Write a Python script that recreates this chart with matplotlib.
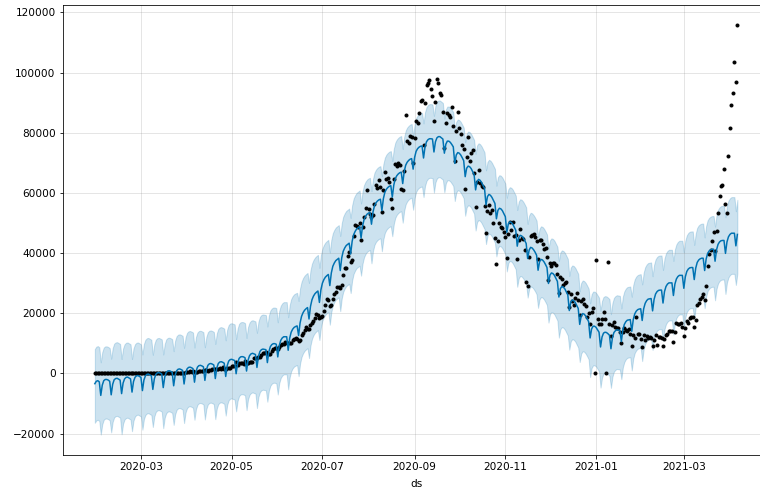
import matplotlib
matplotlib.use('Agg')
import matplotlib.pyplot as plt
import matplotlib.dates as mdates
import numpy as np
import pandas as pd

plt.rcParams['font.size'] = 10.5

# --- data (thousands of cases per day, first day 2020-01-30) ---
start_date = '2020-01-30'

cases = [
    0.0, 0.0,
    0.0, 0.0, 0.0, 0.0, 0.0, 0.0, 0.0, 0.0, 0.0, 0.0,
    0.0, 0.0, 0.0, 0.0, 0.0, 0.0, 0.0, 0.0, 0.0, 0.0,
    0.0, 0.0, 0.0, 0.0, 0.0, 0.0, 0.0, 0.0, 0.0,
    # 2020-03
    0.0, 0.0, 0.02, 0.0, 0.0, 0.0, 0.01, 0.0, 0.01, 0.01, 0.01, 0.01, 0.02, 0.01, 0.01, 0.02,
    0.01, 0.04, 0.05, 0.09, 0.07, 0.1, 0.04, 0.12, 0.07, 0.16, 0.1, 0.18, 0.09, 0.23, 0.6,
    # 2020-04
    0.42, 0.49, 0.69, 0.47, 0.69, 0.35, 0.54, 0.54, 0.68, 0.86, 0.92, 0.93, 1.05, 1.0, 0.86,
    1.08, 1.0, 1.33, 1.55, 1.34, 1.38, 1.41, 1.68, 1.43, 1.98, 1.46, 1.54, 1.86, 1.73, 1.88,
    # 2020-05
    2.4, 2.6, 2.5, 3.9, 2.96, 3.6, 3.39, 3.32, 3.28, 4.21, 3.6, 3.52, 3.72, 3.97, 3.97, 4.99,
    5.24, 4.97, 5.61, 5.61, 6.09, 6.65, 6.77, 6.98, 6.54, 6.39, 6.57, 7.47, 7.96, 8.38, 8.39,
    # 2020-06
    8.17, 8.91, 9.3, 9.85, 9.89, 10.4, 9.98, 9.99, 9.99, 9.99, 10.96, 11.46, 11.93, 11.5, 10.67,
    10.97, 12.88, 13.59, 14.52, 15.41, 14.82, 14.93, 15.97, 16.92, 17.3, 18.55, 19.91, 19.46, 18.52, 18.65,
    # 2020-07
    19.15, 20.9, 22.77, 24.85, 24.25, 22.25, 22.75, 24.88, 26.51, 27.11, 28.64, 28.7, 28.5, 29.43, 32.7,
    34.96, 34.88, 38.9, 40.43, 37.15, 37.72, 45.72, 49.31, 48.92, 48.66, 49.93, 44.5, 48.51, 52.12, 55.08, 61.0,
    # 2020-08
    54.74, 52.97, 52.05, 52.51, 56.28, 62.54, 61.54, 64.4, 62.06, 53.6, 60.96, 67.0, 64.55, 65.0, 63.49,
    57.98, 55.08, 64.53, 69.65, 68.9, 69.88, 69.24, 61.41, 60.98, 67.15, 86.0, 77.27, 76.47, 78.76, 78.51, 69.92,
    # 2020-09
    78.36, 83.88, 83.34, 86.43, 90.63, 90.8, 75.81, 89.71, 95.74, 96.55, 97.57, 94.37, 92.07, 83.81, 90.12,
    97.89, 96.42, 93.34, 92.61, 86.96, 75.08, 83.35, 86.51, 86.05, 85.36, 88.6, 82.17, 70.59, 80.47, 86.82,
    # 2020-10
    81.48, 79.48, 75.83, 74.44, 61.27, 72.05, 78.52, 70.5, 73.27, 74.38, 66.73, 55.34, 63.51, 67.71, 63.37,
    62.21, 61.87, 55.72, 46.79, 54.04, 55.84, 53.37, 54.37, 50.13, 45.15, 36.47, 43.89, 49.88, 48.65, 48.27, 46.96,
    # 2020-11
    45.23, 38.31, 46.25, 50.21, 47.64, 50.36, 45.67, 45.9, 38.07, 44.28, 47.91, 44.88, 44.68, 41.1, 30.55,
    29.16, 38.62, 45.58, 45.88, 46.23, 45.21, 44.06, 37.98, 44.38, 44.49, 43.08, 41.32, 41.81, 38.77, 31.12,
    # 2020-12
    36.6, 35.55, 36.6, 36.65, 36.01, 32.98, 26.57, 32.08, 31.52, 29.4, 30.01, 30.25, 27.07, 22.07, 26.38,
    24.01, 22.89, 25.15, 26.62, 24.34, 19.56, 23.95, 24.71, 23.07, 22.27, 18.73, 20.02, 16.43, 20.55, 21.82, 0.0,
    # 2021-01
    37.6, 18.18, 16.5, 16.38, 18.09, 20.35, 18.14, 0.0, 37.0, 16.31, 12.58, 15.97, 16.95, 15.59, 15.16,
    15.14, 13.79, 10.06, 13.82, 15.22, 14.55, 14.26, 14.85, 13.2, 9.1, 12.69, 11.67, 18.86, 13.08, 13.05, 11.43,
    # 2021-02
    8.64, 12.9, 11.04, 12.41, 11.71, 12.06, 11.83, 9.11, 11.07, 12.92, 9.31, 12.14, 12.19, 11.65,
    9.12, 11.61, 12.88, 13.19, 13.99, 14.26, 14.2, 10.58, 13.74, 16.74, 16.58, 16.49, 16.75, 15.51,
    # 2021-03
    12.29, 14.99, 17.41, 16.84, 18.33, 18.71, 18.6, 15.39, 17.92, 22.85, 23.29, 24.88, 25.32, 26.29, 24.49,
    28.9, 35.87, 39.73, 40.95, 43.85, 46.95, 40.72, 47.26, 53.48, 59.12, 62.26, 62.71, 68.02, 56.21, 53.48, 72.33,
    # 2021-04
    81.47, 89.13, 93.25, 103.56, 96.98, 115.74,
]

# fitted value, one row per week (Mon..Sun), first row Thu..Sun
yhat = [
    -3.4, -2.6, -2.4, -2.8,
    -7.3, -3.9, -2.4, -2.0, -2.0, -2.2, -2.6,
    -7.1, -3.6, -2.1, -1.7, -1.6, -1.9, -2.2,
    -6.7, -3.2, -1.8, -1.3, -1.2, -1.5, -1.8,
    -6.2, -2.7, -1.3, -0.8, -0.7, -1.0, -1.3,
    -5.7, -2.2, -0.8, -0.3, -0.2, -0.5, -0.8,
    -5.3, -1.8, -0.3, 0.2, 0.3, 0.1, -0.2,
    -4.7, -1.2, 0.3, 0.8, 0.9, 0.7, 0.4,
    -4.1, -0.6, 0.9, 1.4, 1.5, 1.3, 1.0,
    -3.5, 0.0, 1.5, 2.0, 2.1, 1.9, 1.6,
    -2.9, 0.6, 2.1, 2.6, 2.7, 2.5, 2.2,
    -2.3, 1.2, 2.7, 3.2, 3.3, 3.1, 2.8,
    -1.7, 1.8, 3.3, 3.8, 3.9, 3.7, 3.4,
    -1.0, 2.6, 4.1, 4.6, 4.7, 4.5, 4.3,
    -0.1, 3.4, 5.0, 5.5, 5.6, 5.5, 5.2,
    0.8, 4.4, 5.9, 6.5, 6.7, 6.5, 6.3,
    2.0, 5.7, 7.3, 7.9, 8.1, 8.0, 7.9,
    3.6, 7.2, 8.9, 9.6, 9.9, 9.9, 9.7,
    5.5, 9.3, 11.0, 11.8, 12.2, 12.2, 12.2,
    7.7, 11.7, 13.7, 14.7, 15.3, 15.6, 15.8,
    12.6, 16.8, 19.0, 20.2, 21.0, 21.5, 21.9,
    18.1, 22.3, 24.5, 25.7, 26.5, 27.0, 27.4,
    23.6, 27.8, 30.0, 31.2, 32.0, 32.5, 32.9,
    29.2, 33.4, 35.6, 36.7, 37.5, 37.9, 38.3,
    34.2, 38.4, 40.6, 41.7, 42.5, 42.9, 43.3,
    39.7, 43.9, 46.1, 47.2, 48.0, 48.4, 48.8,
    45.0, 49.0, 51.1, 52.2, 52.9, 53.3, 53.5,
    49.6, 53.6, 55.7, 56.7, 57.3, 57.7, 57.9,
    54.1, 58.1, 60.2, 61.2, 61.8, 62.2, 62.4,
    58.6, 62.6, 64.7, 65.7, 66.3, 66.7, 66.9,
    63.1, 67.1, 69.2, 70.2, 70.8, 71.2, 71.4,
    67.9, 71.8, 73.8, 74.7, 75.2, 75.5, 75.6,
    71.6, 75.3, 77.0, 77.7, 78.0, 78.0, 77.9,
    73.6, 77.0, 78.3, 78.7, 78.7, 78.3, 77.9,
    73.2, 76.2, 77.2, 77.2, 76.8, 76.1, 75.3,
    69.8, 72.6, 73.4, 73.2, 72.6, 71.7, 70.7,
    65.4, 68.2, 68.9, 68.7, 68.1, 67.1, 66.1,
    61.0, 63.8, 64.5, 64.2, 63.5, 62.5, 61.5,
    56.0, 58.8, 59.5, 59.2, 58.5, 57.5, 56.5,
    51.4, 54.2, 54.9, 54.7, 54.1, 53.1, 52.1,
    46.9, 49.7, 50.4, 50.2, 49.6, 48.6, 47.6,
    42.3, 45.1, 45.9, 45.7, 45.1, 44.2, 43.2,
    38.2, 41.0, 41.9, 41.7, 41.1, 40.3, 39.3,
    34.3, 37.1, 37.9, 37.7, 37.1, 36.2, 35.2,
    29.9, 32.7, 33.4, 33.2, 32.6, 31.6, 30.6,
    25.4, 28.2, 28.9, 28.7, 28.1, 27.1, 26.1,
    20.9, 23.7, 24.4, 24.2, 23.6, 22.6, 21.6,
    16.3, 19.1, 19.9, 19.7, 19.1, 18.2, 17.2,
    11.8, 14.8, 15.7, 15.7, 15.3, 14.5, 13.7,
    8.8, 12.1, 13.4, 13.7, 13.6, 13.2, 12.7,
    8.2, 11.9, 13.6, 14.2, 14.5, 14.4, 14.3,
    10.6, 14.5, 16.3, 17.2, 17.7, 17.8, 17.9,
    14.0, 17.9, 19.8, 20.7, 21.2, 21.4, 21.5,
    17.6, 21.5, 23.3, 24.2, 24.7, 24.8, 24.9,
    20.8, 24.6, 26.4, 27.2, 27.6, 27.7, 27.7,
    23.4, 27.2, 28.9, 29.7, 30.1, 30.1, 30.1,
    25.9, 29.7, 31.4, 32.2, 32.6, 32.6, 32.6,
    28.3, 32.1, 33.9, 34.7, 35.1, 35.2, 35.2,
    31.2, 35.0, 36.9, 37.7, 38.1, 38.3, 38.3,
    34.2, 38.0, 39.9, 40.7, 41.1, 41.3, 41.3,
    37.3, 41.1, 42.9, 43.7, 44.1, 44.2, 44.2,
    39.9, 43.7, 45.4, 46.2, 46.6, 46.6, 46.6,
    42.4, 46.2,
]

yhat_lower = [
    -16.4, -15.6, -15.4, -15.8,
    -20.3, -16.9, -15.4, -15.0, -15.0, -15.2, -15.6,
    -19.6, -16.1, -14.6, -14.2, -14.1, -14.4, -14.7,
    -20.2, -16.7, -15.3, -14.8, -14.7, -15.0, -15.3,
    -19.2, -15.7, -14.3, -13.8, -13.7, -14.0, -14.3,
    -18.7, -15.2, -13.8, -13.3, -13.2, -13.5, -13.8,
    -17.8, -14.3, -12.8, -12.3, -12.2, -12.4, -12.7,
    -18.2, -14.7, -13.2, -12.7, -12.6, -12.8, -13.1,
    -17.1, -13.6, -12.1, -11.6, -11.5, -11.7, -12.0,
    -16.5, -13.0, -11.5, -11.0, -10.9, -11.1, -11.4,
    -15.4, -11.9, -10.4, -9.9, -9.8, -10.0, -10.3,
    -15.3, -11.8, -10.3, -9.8, -9.7, -9.9, -10.2,
    -15.2, -11.7, -10.2, -9.7, -9.6, -9.8, -10.1,
    -14.0, -10.4, -8.9, -8.4, -8.3, -8.5, -8.7,
    -12.6, -9.1, -7.5, -7.0, -6.9, -7.0, -7.3,
    -12.2, -8.6, -7.1, -6.5, -6.3, -6.5, -6.7,
    -11.5, -7.8, -6.2, -5.6, -5.4, -5.5, -5.6,
    -9.4, -5.8, -4.1, -3.4, -3.1, -3.1, -3.3,
    -7.0, -3.2, -1.5, -0.7, -0.3, -0.3, -0.3,
    -5.3, -1.3, 0.7, 1.7, 2.3, 2.6, 2.8,
    -0.9, 3.3, 5.5, 6.7, 7.5, 8.0, 8.4,
    5.1, 9.3, 11.5, 12.7, 13.5, 14.0, 14.4,
    11.1, 15.3, 17.5, 18.7, 19.5, 20.0, 20.4,
    16.2, 20.4, 22.6, 23.7, 24.5, 24.9, 25.3,
    20.7, 24.9, 27.1, 28.2, 29.0, 29.4, 29.8,
    26.7, 30.9, 33.1, 34.2, 35.0, 35.4, 35.8,
    32.5, 36.5, 38.6, 39.7, 40.4, 40.8, 41.0,
    36.6, 40.6, 42.7, 43.7, 44.3, 44.7, 44.9,
    40.6, 44.6, 46.7, 47.7, 48.3, 48.7, 48.9,
    45.6, 49.6, 51.7, 52.7, 53.3, 53.7, 53.9,
    50.1, 54.1, 56.2, 57.2, 57.8, 58.2, 58.4,
    54.4, 58.3, 60.3, 61.2, 61.7, 62.0, 62.1,
    58.6, 62.3, 64.0, 64.7, 65.0, 65.0, 64.9,
    60.1, 63.5, 64.8, 65.2, 65.2, 64.8, 64.4,
    60.2, 63.2, 64.2, 64.2, 63.8, 63.1, 62.3,
    57.3, 60.1, 60.9, 60.7, 60.1, 59.2, 58.2,
    52.4, 55.2, 55.9, 55.7, 55.1, 54.1, 53.1,
    47.5, 50.3, 51.0, 50.7, 50.0, 49.0, 48.0,
    43.0, 45.8, 46.5, 46.2, 45.5, 44.5, 43.5,
    38.9, 41.7, 42.4, 42.2, 41.6, 40.6, 39.6,
    33.9, 36.7, 37.4, 37.2, 36.6, 35.6, 34.6,
    28.8, 31.6, 32.4, 32.2, 31.6, 30.7, 29.7,
    25.2, 28.0, 28.9, 28.7, 28.1, 27.3, 26.3,
    21.8, 24.6, 25.4, 25.2, 24.6, 23.7, 22.7,
    16.9, 19.7, 20.4, 20.2, 19.6, 18.6, 17.6,
    11.9, 14.7, 15.4, 15.2, 14.6, 13.6, 12.6,
    7.9, 10.7, 11.4, 11.2, 10.6, 9.6, 8.6,
    3.8, 6.6, 7.4, 7.2, 6.6, 5.7, 4.7,
    -1.2, 1.8, 2.7, 2.7, 2.3, 1.5, 0.7,
    -4.7, -1.4, -0.1, 0.2, 0.1, -0.3, -0.8,
    -4.8, -1.1, 0.6, 1.2, 1.5, 1.4, 1.3,
    -1.9, 2.0, 3.8, 4.7, 5.2, 5.3, 5.4,
    1.0, 4.9, 6.8, 7.7, 8.2, 8.4, 8.5,
    4.1, 8.0, 9.8, 10.7, 11.2, 11.3, 11.4,
    7.8, 11.6, 13.4, 14.2, 14.6, 14.7, 14.7,
    10.9, 14.7, 16.4, 17.2, 17.6, 17.6, 17.6,
    12.9, 16.7, 18.4, 19.2, 19.6, 19.6, 19.6,
    14.8, 18.6, 20.4, 21.2, 21.6, 21.7, 21.7,
    18.2, 22.0, 23.9, 24.7, 25.1, 25.3, 25.3,
    21.7, 25.5, 27.4, 28.2, 28.6, 28.8, 28.8,
    24.3, 28.1, 29.9, 30.7, 31.1, 31.2, 31.2,
    26.4, 30.2, 31.9, 32.7, 33.1, 33.1, 33.1,
    29.4, 33.2,
]

yhat_upper = [
    8.1, 8.9, 9.1, 8.7,
    3.7, 7.1, 8.6, 9.0, 9.0, 8.8, 8.4,
    4.9, 8.4, 9.9, 10.3, 10.4, 10.1, 9.8,
    4.8, 8.3, 9.7, 10.2, 10.3, 10.0, 9.7,
    4.8, 8.3, 9.7, 10.2, 10.3, 10.0, 9.7,
    6.3, 9.8, 11.2, 11.7, 11.8, 11.5, 11.2,
    6.2, 9.7, 11.2, 11.7, 11.8, 11.6, 11.3,
    6.3, 9.8, 11.3, 11.8, 11.9, 11.7, 11.4,
    7.4, 10.9, 12.4, 12.9, 13.0, 12.8, 12.5,
    8.5, 12.0, 13.5, 14.0, 14.1, 13.9, 13.6,
    8.6, 12.1, 13.6, 14.1, 14.2, 14.0, 13.7,
    8.7, 12.2, 13.7, 14.2, 14.3, 14.1, 13.8,
    9.8, 13.3, 14.8, 15.3, 15.4, 15.2, 14.9,
    11.0, 14.6, 16.1, 16.6, 16.7, 16.5, 16.3,
    11.4, 14.9, 16.5, 17.0, 17.1, 17.0, 16.7,
    11.8, 15.4, 16.9, 17.5, 17.7, 17.5, 17.3,
    13.5, 17.2, 18.8, 19.4, 19.6, 19.5, 19.4,
    15.6, 19.2, 20.9, 21.6, 21.9, 21.9, 21.7,
    17.0, 20.8, 22.5, 23.3, 23.7, 23.7, 23.7,
    18.7, 22.7, 24.7, 25.7, 26.3, 26.6, 26.8,
    24.1, 28.3, 30.5, 31.7, 32.5, 33.0, 33.4,
    30.1, 34.3, 36.5, 37.7, 38.5, 39.0, 39.4,
    35.1, 39.3, 41.5, 42.7, 43.5, 44.0, 44.4,
    40.2, 44.4, 46.6, 47.7, 48.5, 48.9, 49.3,
    45.7, 49.9, 52.1, 53.2, 54.0, 54.4, 54.8,
    51.7, 55.9, 58.1, 59.2, 60.0, 60.4, 60.8,
    56.5, 60.5, 62.6, 63.7, 64.4, 64.8, 65.0,
    60.6, 64.6, 66.7, 67.7, 68.3, 68.7, 68.9,
    65.6, 69.6, 71.7, 72.7, 73.3, 73.7, 73.9,
    70.6, 74.6, 76.7, 77.7, 78.3, 78.7, 78.9,
    74.6, 78.6, 80.7, 81.7, 82.3, 82.7, 82.9,
    78.9, 82.8, 84.8, 85.7, 86.2, 86.5, 86.6,
    83.1, 86.8, 88.5, 89.2, 89.5, 89.5, 89.4,
    85.6, 89.0, 90.3, 90.7, 90.7, 90.3, 89.9,
    84.7, 87.7, 88.7, 88.7, 88.3, 87.6, 86.8,
    80.8, 83.6, 84.4, 84.2, 83.6, 82.7, 81.7,
    76.9, 79.7, 80.4, 80.2, 79.6, 78.6, 77.6,
    73.0, 75.8, 76.5, 76.2, 75.5, 74.5, 73.5,
    67.5, 70.3, 71.0, 70.7, 70.0, 69.0, 68.0,
    62.4, 65.2, 65.9, 65.7, 65.1, 64.1, 63.1,
    58.4, 61.2, 61.9, 61.7, 61.1, 60.1, 59.1,
    54.3, 57.1, 57.9, 57.7, 57.1, 56.2, 55.2,
    49.7, 52.5, 53.4, 53.2, 52.6, 51.8, 50.8,
    45.3, 48.1, 48.9, 48.7, 48.1, 47.2, 46.2,
    41.4, 44.2, 44.9, 44.7, 44.1, 43.1, 42.1,
    37.4, 40.2, 40.9, 40.7, 40.1, 39.1, 38.1,
    32.4, 35.2, 35.9, 35.7, 35.1, 34.1, 33.1,
    27.3, 30.1, 30.9, 30.7, 30.1, 29.2, 28.2,
    23.3, 26.3, 27.2, 27.2, 26.8, 26.0, 25.2,
    20.8, 24.1, 25.4, 25.7, 25.6, 25.2, 24.7,
    19.7, 23.4, 25.1, 25.7, 26.0, 25.9, 25.8,
    21.6, 25.5, 27.3, 28.2, 28.7, 28.8, 28.9,
    25.5, 29.4, 31.3, 32.2, 32.7, 32.9, 33.0,
    29.6, 33.5, 35.3, 36.2, 36.7, 36.8, 36.9,
    32.3, 36.1, 37.9, 38.7, 39.1, 39.2, 39.2,
    34.4, 38.2, 39.9, 40.7, 41.1, 41.1, 41.1,
    37.4, 41.2, 42.9, 43.7, 44.1, 44.1, 44.1,
    40.3, 44.1, 45.9, 46.7, 47.1, 47.2, 47.2,
    42.7, 46.5, 48.4, 49.2, 49.6, 49.8, 49.8,
    45.2, 49.0, 50.9, 51.7, 52.1, 52.3, 52.3,
    48.8, 52.6, 54.4, 55.2, 55.6, 55.7, 55.7,
    51.9, 55.7, 57.4, 58.2, 58.6, 58.6, 58.6,
    53.9, 57.7,
]

assert len(cases) == len(yhat) == len(yhat_lower) == len(yhat_upper), \
    (len(cases), len(yhat), len(yhat_lower), len(yhat_upper))

ds = pd.date_range(start_date, periods=len(cases), freq='D')
y = np.array(cases) * 1000
fit = np.array(yhat) * 1000
lo = np.array(yhat_lower) * 1000
hi = np.array(yhat_upper) * 1000

# --- plot, prophet style ---
fig = plt.figure(figsize=(760 / 72, 495 / 72), dpi=72)
ax = fig.add_axes([0.0825, 0.0808, 0.930, 0.9097])

ax.plot(ds, y, 'k.')
ax.plot(ds, fit, ls='-', c='#0072B2')
ax.fill_between(ds, lo, hi, color='#0072B2', alpha=0.2)

ax.xaxis.set_major_locator(mdates.MonthLocator(bymonth=[1, 3, 5, 7, 9, 11]))
ax.xaxis.set_major_formatter(mdates.DateFormatter('%Y-%m'))
ax.grid(True, which='major', c='gray', ls='-', lw=1, alpha=0.2)
ax.set_xlabel('ds', labelpad=7)

fig.savefig('out.png', dpi=72)
